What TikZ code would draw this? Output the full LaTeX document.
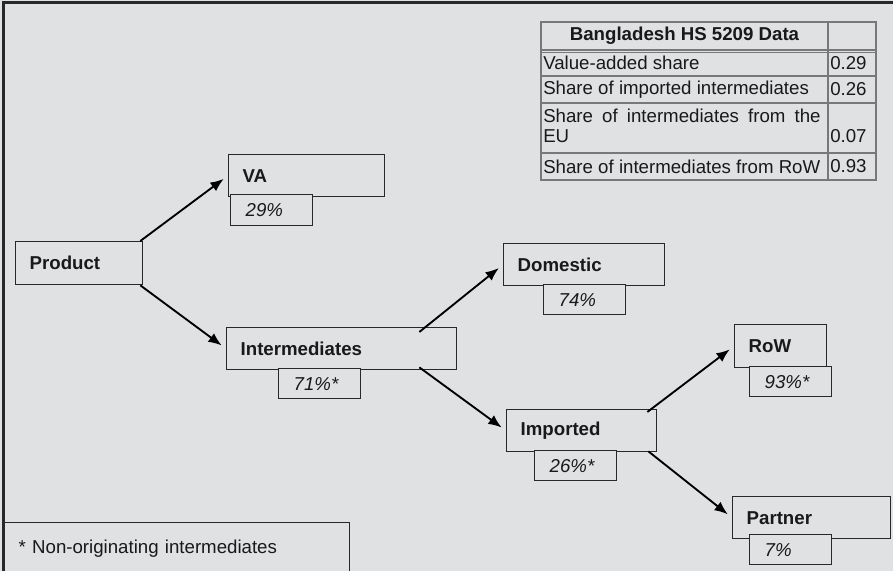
\documentclass[tikz,border=0pt]{standalone}
\usepackage{fontspec}
\setmainfont{Liberation Sans}
\usetikzlibrary{arrows.meta}

\definecolor{bggray}{RGB}{224,225,227}
\definecolor{boxline}{RGB}{40,40,40}
\definecolor{tabline}{RGB}{120,120,120}
\definecolor{inkgray}{RGB}{25,25,25}

\begin{document}
\begin{tikzpicture}[
	x=0.75pt, y=-0.75pt,
	font=\fontsize{14}{15}\selectfont, text=inkgray,
	mainbox/.style={ draw=boxline, line width=1pt, anchor=north west, minimum height=31.5pt, inner xsep=10.5pt, align=left, font=\fontsize{14}{15}\selectfont\bfseries },
	pctbox/.style={ draw=boxline, line width=1pt, fill=bggray, anchor=north west, minimum width=61.5pt, minimum height=22.5pt, text width=39pt, inner xsep=11.25pt, align=left, font=\fontsize{14}{15}\selectfont\itshape },
	arr/.style={ -{Latex[length=10pt,width=8pt]}, line width=1.4pt, draw=black, shorten >=4pt },
	tabrule/.style={ draw=tabline, line width=0.9pt },
	celltext/.style={ anchor=west, inner sep=0pt }
]

\useasboundingbox (0,0) rectangle (893,571);
\fill[bggray] (0,0) rectangle (893,571);
\clip (0,0) rectangle (893,571);
\draw[boxline, line width=2.25pt] (3,571) -- (3,2) -- (893,2);

% data table
\draw[tabrule] (541,22) rectangle (876,180);
\draw[tabrule] (828,22) -- (828,180);
\foreach \y in {50,76,103,153}
	\draw[tabrule] (541,\y) -- (876,\y);
\draw[tabrule, line width=0.5pt] (541,52) -- (876,52);
\node at (684.5,35.5) (thead) [inner sep=0pt, font=\fontsize{14}{15}\selectfont\bfseries] {Bangladesh HS 5209 Data};
\node at (543,63) (tva) [celltext] {Value-added share};
\node at (830,63) (vva) [celltext] {0.29};
\node at (543,89.5) (timp) [celltext] {Share of imported intermediates};
\node at (830,89.5) (vimp) [celltext] {0.26};
\node at (543,125.5) (teu) [celltext, align=left] {\makebox[208pt][s]{Share of intermediates from the}\\EU};
\node at (830,136) (veu) [celltext] {0.07};
\node at (543,166.5) (trow) [celltext] {Share of intermediates from RoW};
\node at (830,166.5) (vrow) [celltext] {0.93};

% tree
\node at (15,241) (prod) [mainbox, minimum width=95.25pt, minimum height=32.25pt, text width=74.25pt] {Product};
\node at (228,154) (va) [mainbox, minimum width=117pt, text width=96pt] {VA};
\node at (226,327) (inter) [mainbox, minimum width=172.5pt, text width=151.5pt] {Intermediates};
\node at (503,243) (dom) [mainbox, minimum width=120.75pt, text width=99.75pt] {Domestic};
\node at (506,409) (imp) [mainbox, minimum width=112.5pt, text width=91.5pt] {Imported};
\node at (734,324) (row) [mainbox, minimum width=69pt, minimum height=32.25pt, text width=48pt] {RoW};
\node at (732,496) (partner) [mainbox, minimum width=118.5pt, text width=97.5pt] {Partner};

\node at (230,194) (pva) [pctbox, minimum height=23.25pt] {29\%};
\node at (278,368) (pinter) [pctbox] {71\%*};
\node at (543,284) (pdom) [pctbox] {74\%};
\node at (534,450) (pimp) [pctbox] {26\%*};
\node at (749,366) (prow) [pctbox] {93\%*};
\node at (749,534) (ppartner) [pctbox] {7\%};

\draw[arr] ([xshift=-2.25pt]prod.north east) -- (va.west);
\draw[arr] ([xshift=-2.25pt]prod.south east) -- (inter.west);
\draw[arr] ([xshift=-28.5pt,yshift=-3.75pt]inter.north east) -- (dom.west);
\draw[arr] ([xshift=-28.5pt,yshift=2.25pt]inter.south east) -- (imp.west);
\draw[arr] ([xshift=-7.5pt,yshift=-2.25pt]imp.north east) -- (row.west);
\draw[arr] ([xshift=-6.75pt,yshift=0.75pt]imp.south east) -- (partner.west);

% footnote
\node at (3,522) (note) [draw=boxline, line width=1pt, anchor=north west, minimum width=259.5pt, minimum height=39pt, text width=237pt, inner xsep=11.25pt, align=left] {* Non-originating intermediates};

\end{tikzpicture}
\end{document}
